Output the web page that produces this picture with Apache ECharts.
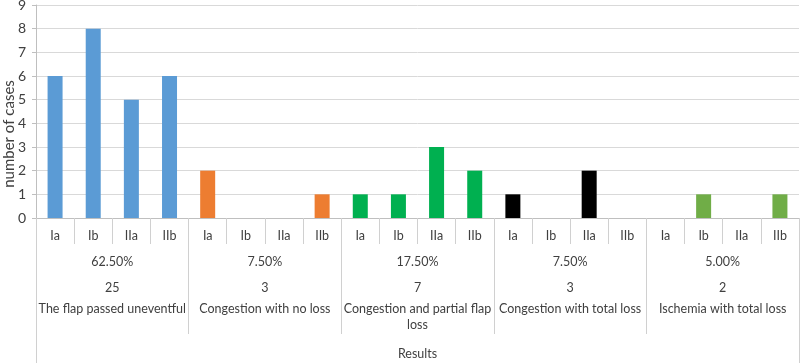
<!DOCTYPE html>
<html>
<head>
<meta charset="utf-8">
<script src="https://cdn.jsdelivr.net/npm/echarts@6/dist/echarts.min.js"></script>
<style>
  html, body { margin: 0; padding: 0; background: #fff; }
  #chart { width: 800px; height: 363px; }
</style>
</head>
<body>
<div id="chart"></div>
<script>
// 数据
var subLabels = ['Ia', 'Ib', 'IIa', 'IIb'];
var groupNames = ['The flap passed uneventful', 'Congestion with no loss', 'Congestion and partial flap loss', 'Congestion with total loss', 'Ischemia with total loss'];
var groupPercents = ['62.50%', '7.50%', '17.50%', '7.50%', '5.00%'];
var groupCounts = [25, 3, 7, 3, 2];
var uneventful = [6, 8, 5, 6];
var congestionNoLoss = [2, 0, 0, 1];
var congestionPartial = [1, 1, 3, 2];
var congestionTotal = [1, 0, 2, 0];
var ischemiaTotal = [0, 1, 0, 1];
var groupColors = ['#5b9bd5', '#ed7d31', '#00b050', '#000000', '#70ad47'];
var yTitle = 'number of cases';

var groupValues = [uneventful, congestionNoLoss, congestionPartial, congestionTotal, ischemiaTotal];
var categories = [];
var values = [];
groupValues.forEach(function (vals, g) {
  vals.forEach(function (v, i) {
    categories.push(subLabels[i] + '_' + g);
    values.push(v);
  });
});

var txt = '#404040';
var font = 'Lato';
var fontSize = 12.5;

// 按宽度折行
var ctx = document.createElement('canvas').getContext('2d');
ctx.font = fontSize + 'px ' + font;
function wrap(s, maxW) {
  var words = s.split(' ');
  var lines = [];
  var cur = '';
  words.forEach(function (w) {
    var t = cur ? cur + ' ' + w : w;
    if (cur && ctx.measureText(t).width > maxW) {
      lines.push(cur);
      cur = w;
    } else {
      cur = t;
    }
  });
  lines.push(cur);
  return lines;
}

var myChart = echarts.init(document.getElementById('chart'));

var option = {
  animation: false,
  textStyle: { fontFamily: font },
  grid: { left: 36, right: 1, top: 5, bottom: 145, outerBoundsMode: 'none' },
  // 纵轴标题
  graphic: [
    {
      type: 'text',
      x: 9,
      y: 134,
      rotation: Math.PI / 2,
      style: {
        text: yTitle, fill: txt, fontSize: 15, fontFamily: font,
        align: 'center', verticalAlign: 'middle'
      }
    }
  ],
  xAxis: [
    {
      type: 'category',
      position: 'bottom',
      data: categories,
      axisLine: { show: true, lineStyle: { color: '#bfbfbf' } },
      axisTick: { show: true, interval: 0, length: 26, lineStyle: { color: '#d0d0d0' } },
      axisLabel: {
        interval: 0, margin: 11, color: txt, fontSize: fontSize, fontFamily: font,
        formatter: function (v) { return v.split('_')[0]; }
      }
    },
    {
      type: 'category',
      position: 'bottom',
      data: groupNames,
      axisLine: { show: false },
      axisTick: { show: true, interval: 0, length: 116, lineStyle: { color: '#d0d0d0' } },
      axisLabel: {
        interval: 0, margin: 31, color: txt, fontSize: fontSize, fontFamily: font,
        formatter: function (v, i) {
          var lines = wrap(v, 150).map(function (l) { return '{n|' + l + '}'; });
          return '{p|' + groupPercents[i] + '}\n{p|' + groupCounts[i] + '}\n' + lines.join('\n');
        },
        rich: {
          p: { lineHeight: 26, fontSize: fontSize, color: txt, fontFamily: font },
          n: { lineHeight: 16, fontSize: fontSize, color: txt, fontFamily: font }
        }
      }
    },
    {
      type: 'category',
      position: 'bottom',
      data: ['Results'],
      axisLine: { show: false },
      axisTick: { show: true, length: 145, lineStyle: { color: '#d0d0d0' } },
      axisLabel: { margin: 129, color: txt, fontSize: fontSize, fontFamily: font }
    }
  ],
  yAxis: {
    type: 'value',
    min: 0,
    max: 9,
    interval: 1,
    axisLine: { show: true, lineStyle: { color: '#bfbfbf' } },
    axisTick: { show: true, length: 4, lineStyle: { color: '#bfbfbf' } },
    axisLabel: { color: txt, fontSize: 14, margin: 10, fontFamily: font },
    splitLine: { lineStyle: { color: '#d9d9d9' } }
  },
  series: [
    {
      type: 'bar',
      xAxisIndex: 0,
      data: values,
      barWidth: 15,
      itemStyle: {
        color: function (p) { return groupColors[Math.floor(p.dataIndex / 4)]; }
      }
    }
  ]
};

myChart.setOption(option);
</script>
</body>
</html>
